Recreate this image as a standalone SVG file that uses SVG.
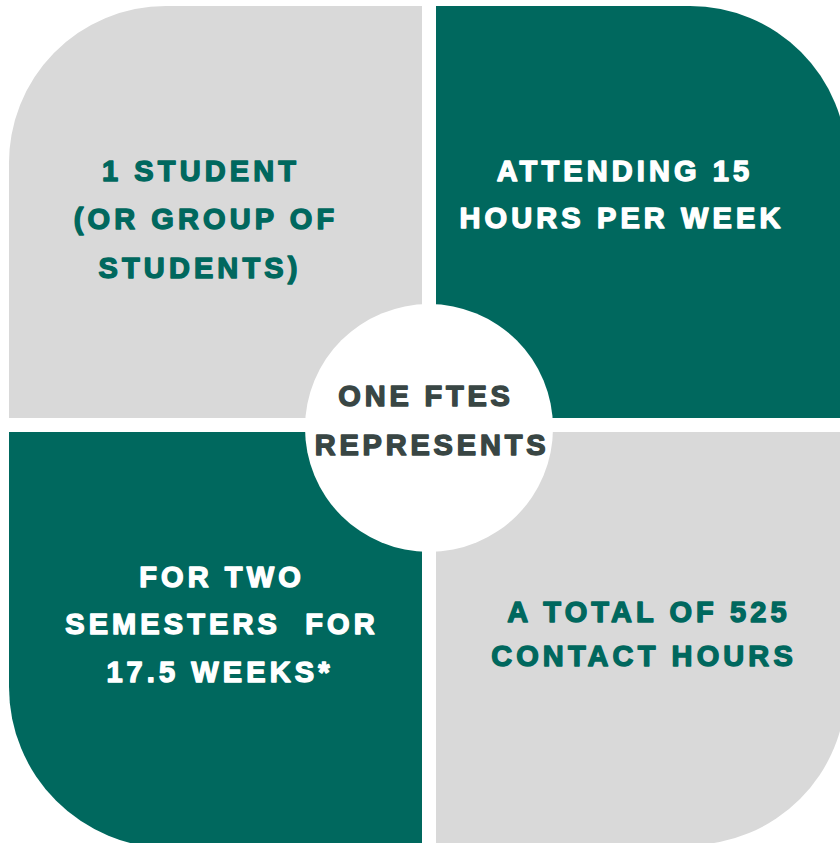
<svg xmlns="http://www.w3.org/2000/svg" width="840" height="843" viewBox="0 0 840 843">
  <style>
    .grey { fill: #D9D9D9; }
    .teal { fill: #00685E; }
    text { font-family: "Liberation Sans", Arial, sans-serif; font-weight: bold; font-size: 29px; letter-spacing: 4.1px; text-anchor: middle; stroke-width: 1.4px; stroke-linejoin: round; }
    .on-grey { fill: #00685E; stroke: #00685E; }
    .on-teal { fill: #FFFFFF; stroke: #FFFFFF; }
    .hub-text { fill: #394644; stroke: #394644; letter-spacing: 3.8px; }
  </style>
  <rect width="840" height="843" fill="#FFFFFF"/>

  <!-- top-left quadrant -->
  <g id="student">
    <path class="grey" d="M9,166 A157,157 0 0 1 166,6 L422,6 L422,418 L9,418 Z"/>
    <text class="on-grey" x="201" y="181">1 STUDENT</text>
    <text class="on-grey" x="206" y="229">(OR GROUP OF</text>
    <text class="on-grey" x="200" y="278">STUDENTS)</text>
  </g>

  <!-- top-right quadrant -->
  <g id="attending">
    <path class="teal" d="M436,6 L690,6 A157,157 0 0 1 847,163 L847,418 L436,418 Z"/>
    <text class="on-teal" x="625" y="181">ATTENDING 15</text>
    <text class="on-teal" x="622" y="228">HOURS PER WEEK</text>
  </g>

  <!-- bottom-left quadrant -->
  <g id="semesters">
    <path class="teal" d="M9,432 L422,432 L422,848 L170,848 A161,161 0 0 1 9,687 Z"/>
    <text class="on-teal" x="222" y="587">FOR TWO</text>
    <text class="on-teal" x="222" y="634" xml:space="preserve">SEMESTERS  FOR</text>
    <text class="on-teal" x="220" y="682">17.5 WEEKS*</text>
  </g>

  <!-- bottom-right quadrant -->
  <g id="contact-hours">
    <path class="grey" d="M436,432 L846,432 L846,688 A157,157 0 0 1 689,845 L436,845 Z"/>
    <text class="on-grey" x="649" y="622">A TOTAL OF 525</text>
    <text class="on-grey" x="644" y="666">CONTACT HOURS</text>
  </g>

  <!-- central hub -->
  <g id="hub">
    <circle cx="429" cy="428" r="124" fill="#FFFFFF"/>
    <text class="hub-text" x="426" y="406">ONE FTES</text>
    <text class="hub-text" x="432" y="455">REPRESENTS</text>
  </g>
</svg>
